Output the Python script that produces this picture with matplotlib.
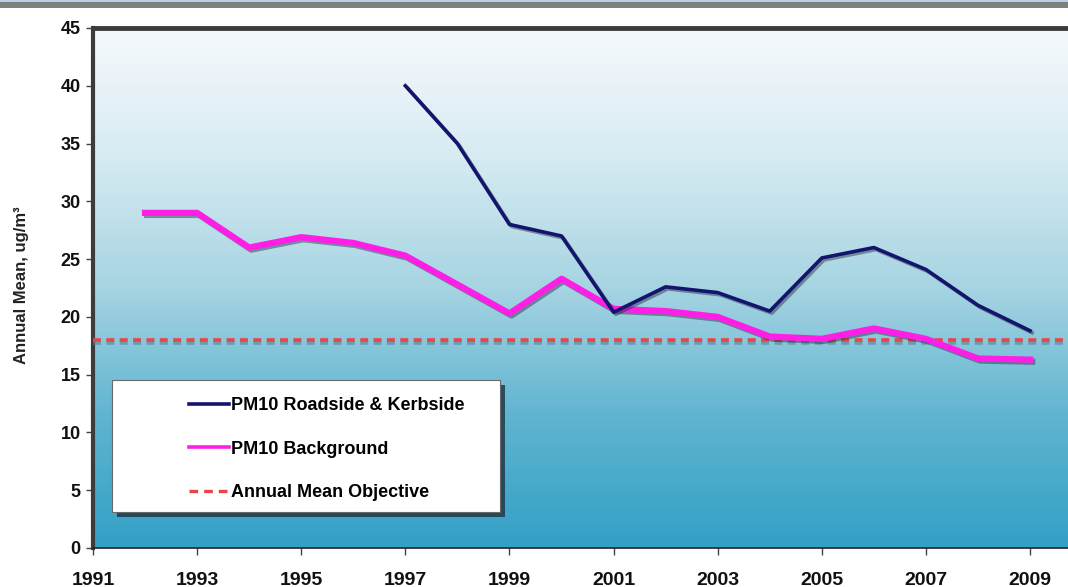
import numpy as np
import matplotlib
matplotlib.use("Agg")
import matplotlib.pyplot as plt
import matplotlib.patheffects as pe
from matplotlib.colors import LinearSegmentedColormap
from matplotlib.patches import Rectangle
from matplotlib.lines import Line2D

plt.rcParams['font.family'] = ['Liberation Sans', 'DejaVu Sans']

# PM10 annual means (ug/m3)
roadside_years = [1997, 1998, 1999, 2000, 2001, 2002, 2003, 2004, 2005, 2006, 2007, 2008, 2009]
roadside_vals = [40.0, 35.0, 28.0, 27.0, 20.4, 22.6, 22.1, 20.5, 25.1, 26.0, 24.1, 21.0, 18.8]

background_years = [1992, 1993, 1994, 1995, 1996, 1997, 1998, 1999, 2000, 2001, 2002, 2003,
                    2004, 2005, 2006, 2007, 2008, 2009]
background_vals = [29.0, 29.0, 26.0, 26.9, 26.4, 25.3, 22.8, 20.3, 23.3, 20.7, 20.5, 20.0,
                   18.3, 18.1, 19.0, 18.1, 16.4, 16.3]

objective = 18.0

x_ticks = [1991, 1993, 1995, 1997, 1999, 2001, 2003, 2005, 2007, 2009]
y_ticks = [0, 5, 10, 15, 20, 25, 30, 35, 40, 45]

labels = ["PM10 Roadside & Kerbside", "PM10 Background", "Annual Mean Objective"]

W, H = 1068, 587
fig = plt.figure(figsize=(W / 100, H / 100), dpi=100)
fig.patch.set_facecolor('white')

# header strip
fig.add_artist(Rectangle((0, 1 - 8 / H), 1, 8 / H, transform=fig.transFigure,
                         facecolor='#7f7f7f', edgecolor='none'))
fig.add_artist(Rectangle((0, 1 - 2 / H), 1, 2 / H, transform=fig.transFigure,
                         facecolor='#b9cfe6', edgecolor='none'))

x0px, x1px, ytop, ybot = 93, 1068, 28, 548
ax = fig.add_axes([x0px / W, (H - ybot) / H, (x1px - x0px) / W, (ybot - ytop) / H])

xmin = 1991
xmax = 1991 + (x1px - x0px) / 52.06
ax.set_xlim(xmin, xmax)
ax.set_ylim(0, 45)

# vertical gradient fill of the plot area
cmap = LinearSegmentedColormap.from_list(
    'sky', [(0.0, '#33a0c6'), (0.25, '#5fb4d0'), (0.5, '#a6d4e2'),
            (0.75, '#d6ebf2'), (1.0, '#f6f9fc')])
grad = np.linspace(0, 1, 256).reshape(-1, 1)
ax.imshow(grad, extent=[xmin, xmax, 0, 45], aspect='auto', cmap=cmap,
          origin='lower', zorder=0, interpolation='bicubic')

shadow = [pe.SimpleLineShadow(offset=(1.5, -1.5), shadow_color='#1c2a40', alpha=0.45),
          pe.Normal()]

ax.axhline(objective, color='#e8454a', lw=2.6, linestyle=(0, (2.2, 1.5)), zorder=3,
           path_effects=[pe.SimpleLineShadow(offset=(0, -2.5), shadow_color='#5a7f90', alpha=0.6),
                         pe.Normal()])
ax.plot(background_years, background_vals, color='#ff1ee6', lw=4.5, zorder=4,
        solid_joinstyle='round', path_effects=shadow)
ax.plot(roadside_years, roadside_vals, color='#14146e', lw=2.6, zorder=5,
        solid_joinstyle='round', path_effects=shadow)

# frame
ax.spines['right'].set_visible(False)
ax.spines['top'].set_color('#3c3c3c')
ax.spines['top'].set_linewidth(3.5)
ax.spines['left'].set_color('#3c3c3c')
ax.spines['left'].set_linewidth(3.0)
ax.spines['bottom'].set_color('#222222')
ax.spines['bottom'].set_linewidth(1.2)

ax.set_xticks(x_ticks)
ax.set_yticks(y_ticks)
ax.tick_params(axis='both', direction='out', length=5, width=1, color='#444444')
ax.tick_params(axis='x', labelsize=14, pad=12)
ax.tick_params(axis='y', labelsize=13, pad=4)
for t in ax.get_xticklabels() + ax.get_yticklabels():
    t.set_fontweight('bold')
    t.set_color('#111111')

fig.text(22 / W, 1 - 285 / H, 'Annual Mean, ug/m³', rotation=90, ha='center', va='center',
         fontsize=12, fontweight='bold', color='#222222')

# legend panel with drop shadow
bx, by, bw, bh = 112, 380, 388, 132
fig.add_artist(Rectangle(((bx + 5) / W, (H - by - bh - 5) / H), bw / W, bh / H,
                         transform=fig.transFigure, facecolor='#1e3a48', edgecolor='none',
                         alpha=0.85, zorder=8))
fig.add_artist(Rectangle((bx / W, (H - by - bh) / H), bw / W, bh / H,
                         transform=fig.transFigure, facecolor='white', edgecolor='#6a6a6a',
                         lw=0.8, zorder=9))

handles = [Line2D([], [], color='#14146e', lw=2.6),
           Line2D([], [], color='#ff1ee6', lw=2.6),
           Line2D([], [], color='#e8454a', lw=2.4, linestyle=(0, (2.6, 1.8)))]
leg = fig.legend(handles, labels, loc='upper left',
                 bbox_to_anchor=(180 / W, 1 - 388 / H), bbox_transform=fig.transFigure,
                 frameon=False, prop={'weight': 'bold', 'size': 13},
                 handlelength=2.2, handletextpad=0.15, labelspacing=1.48, borderpad=0)
leg.set_zorder(10)

fig.savefig('out.png', dpi=100)
